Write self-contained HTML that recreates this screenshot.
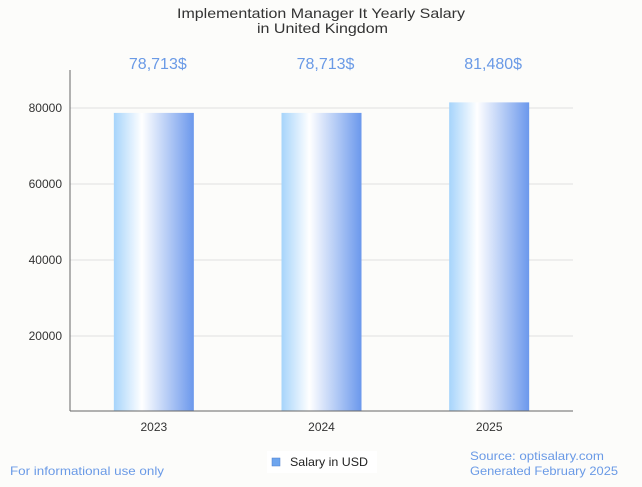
<!DOCTYPE html>
<html><head><meta charset="utf-8"><style>
body{margin:0;background:#fcfcfa;font-family:"Liberation Sans",sans-serif;}
#c{position:relative;width:642px;height:482px;}
</style></head><body>
<div id="c">
<svg width="642" height="482">
<defs><linearGradient id="g" x1="0" x2="1" y1="0" y2="0">
<stop offset="0" stop-color="#a6d4fb"/><stop offset="0.35" stop-color="#ffffff"/><stop offset="1" stop-color="#6b98ec"/>
</linearGradient></defs>
<text x="177" y="18" textLength="288" lengthAdjust="spacingAndGlyphs" font-size="14" fill="#333">Implementation Manager It Yearly Salary</text>
<text x="257" y="33" textLength="131" lengthAdjust="spacingAndGlyphs" font-size="14" fill="#333">in United Kingdom</text>
<g id="grid"></g><g id="bars"></g>
<line x1="70" y1="70" x2="70" y2="411" stroke="#666"/>
<line x1="70" y1="411" x2="573" y2="411" stroke="#666"/>
<rect x="267" y="451" width="110" height="22" fill="#fff"/>
<rect x="272" y="458" width="8" height="8" fill="#6ea5ee" stroke="#4a7fcc" stroke-width="0.5"/>
<text x="290" y="466" textLength="78" lengthAdjust="spacingAndGlyphs" font-size="12" fill="#222">Salary in USD</text>
<text x="10" y="475" textLength="154" lengthAdjust="spacingAndGlyphs" font-size="12" fill="#6a9ae6">For informational use only</text>
<text x="470" y="460" textLength="134" lengthAdjust="spacingAndGlyphs" font-size="12" fill="#6a9ae6">Source: optisalary.com</text>
<text x="470" y="475" textLength="148" lengthAdjust="spacingAndGlyphs" font-size="12" fill="#6a9ae6">Generated February 2025</text>
</svg></div>
<script>
const categories=["2023","2024","2025"];
const values=[78713,78713,81480];
const valueLabels=["78,713$","78,713$","81,480$"];
const yTicks=[20000,40000,60000,80000];
const ns="http://www.w3.org/2000/svg";
const x0=70,x1=573,yBase=412,pxPer=76/20000;
const y=v=>yBase-v*pxPer;
const bw=(x1-x0)/categories.length;
const grid=document.getElementById('grid'),bars=document.getElementById('bars');
function mk(t,a,p){const e=document.createElementNS(ns,t);for(const k in a)e.setAttribute(k,a[k]);p.appendChild(e);return e;}
yTicks.forEach(t=>{
 const l=mk('line',{x1:x0,x2:x1,y1:y(t),y2:y(t),stroke:'#e0e0e0'},grid);
 
 
 const tx=mk('text',{x:62,y:y(t)+4,'text-anchor':'end','font-size':12,fill:'#333'},grid);
 tx.textContent=t;
 
 
});
categories.forEach((c,i)=>{
 const cx=x0+bw*(i+0.5);
 const r=mk('rect',{x:cx-40,y:y(values[i]),width:80,height:411-y(values[i]),fill:'url(#g)'},bars);
 
 
 const v=mk('text',{x:cx+4,y:69,'text-anchor':'middle','font-size':16,fill:'#6a9ae6'},bars);
 v.textContent=valueLabels[i];
 
 
 const t=mk('text',{x:cx,y:431,'text-anchor':'middle','font-size':12,fill:'#333'},bars);
 t.textContent=c;
 
 
});
</script>
</body></html>
